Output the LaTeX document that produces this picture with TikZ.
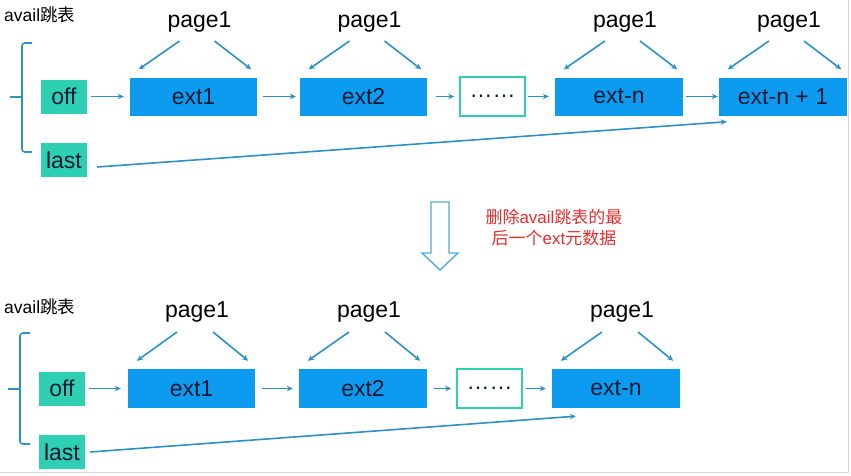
\documentclass[tikz,border=0pt]{standalone}
\usepackage{fontspec}
\setmainfont{Liberation Sans}
\newfontfamily\cjk{Noto Sans CJK SC}
\usetikzlibrary{arrows.meta,calc}
\definecolor{tealbox}{RGB}{45,208,178}
\definecolor{bluebox}{RGB}{13,155,240}
\definecolor{arrowc}{RGB}{45,145,200}
\definecolor{textc}{RGB}{15,25,50}
\definecolor{redtxt}{RGB}{230,45,45}
\definecolor{bigarrow}{RGB}{80,170,220}
\definecolor{framec}{RGB}{215,215,215}
\tikzset{
  ptr/.style={node font=\fontsize{23}{26}\selectfont, fill=tealbox, text=textc, inner sep=0pt, minimum width=46pt, minimum height=34pt},
  ext/.style={node font=\fontsize{23}{26}\selectfont, fill=bluebox, text=textc, inner sep=0pt, minimum width=127pt, minimum height=38pt},
  dotbox/.style={node font=\fontsize{23}{26}\selectfont, draw=tealbox, line width=1.5pt, fill=white, text=textc, inner sep=0pt, minimum width=65pt, minimum height=38pt},
  pagelbl/.style={node font=\fontsize{23}{26}\selectfont, text=black, inner sep=0pt, anchor=base},
  title/.style={node font=\fontsize{17.5}{20}\selectfont, text=black, inner sep=0pt, anchor=west},
  conn/.style={draw=arrowc, line width=1.6pt, -{Stealth[length=6pt,width=5.5pt]}},
  brace/.style={draw=arrowc, line width=1.6pt, rounded corners=3pt},
}
\begin{document}
\begin{tikzpicture}[x=1pt,y=-1pt]
\useasboundingbox (0,0) rectangle (851,475);
\fill[white] (0,0) rectangle (851,475);
\draw[framec, line width=1pt] (848,0) -- (848,472) -- (0,472);

% ---------- top ----------
\node[title] (t1) at (4,15) {avail{\cjk 跳表}};
\draw[brace] (32,43) -- (22,43) -- (22,152) -- (32,152);
\draw[brace] (10,97) -- (22,97);

\node[ptr] (off1) at (64,96.5) {off};
\node[ptr] (last1) at (64,160) {last};
\node[ext] (a1) at (193.5,96.5) {ext1};
\node[ext] (a2) at (363.5,96.5) {ext2};
\node[dotbox, minimum height=39pt] (ad) at (492.5,96.5) {……};
\node[ext, minimum width=128pt] (an) at (619,96.5) {ext-n};
\node[ext, minimum width=128pt] (an1) at (783,96.5) {ext-n + 1};

\foreach \b/\c in {a1/199.5, a2/369.5, an/625, an1/789}{
  \node[pagelbl] (p\b) at (\c,27) {page1};
  \draw[conn] ([shift={(-20,14)}]p\b.base) -- ([shift={(9,-8)}]\b.north west);
  \draw[conn] ([shift={(15,14)}]p\b.base) -- ([shift={(-6,-8)}]\b.north east);
}
\draw[conn, shorten <=4pt, shorten >=6pt] (off1) -- (a1);
\draw[conn, shorten <=6pt, shorten >=4pt] (a1) -- (a2);
\draw[conn, shorten <=9pt, shorten >=5pt] (a2) -- (ad);
\draw[conn, shorten <=2pt, shorten >=6pt] (ad) -- (an);
\draw[conn, shorten <=3pt, shorten >=1pt] (an) -- (an1);
\coordinate (lend1) at ([shift={(8,6)}]an1.south west);
\draw[conn] ([shift={(10,7)}]last1.east) -- (lend1);

% ---------- middle ----------
\draw[bigarrow, line width=1.4pt, fill=white, line join=miter]
  (431,202) -- (449,202) -- (449,253) -- (458,253) -- (440,270) -- (422,253) -- (431,253) -- cycle;
\node[text=redtxt, align=center, font=\fontsize{17}{21}\selectfont, inner sep=0pt] (note) at (554,227)
  {{\cjk 删除}avail{\cjk 跳表的最}\\{\cjk 后一个}ext{\cjk 元数据}};

% ---------- bottom ----------
\node[title] (t2) at (4,307) {avail{\cjk 跳表}};
\draw[brace] (30,333) -- (20,333) -- (20,444) -- (30,444);
\draw[brace] (8,389) -- (20,389);

\node[ptr] (off2) at (62,388.5) {off};
\node[ptr] (last2) at (62,452) {last};
\node[ext, minimum height=39pt] (b1) at (191.5,388.5) {ext1};
\node[ext, minimum height=39pt, minimum width=128pt] (b2) at (363,388.5) {ext2};
\node[dotbox, minimum height=39pt] (bd) at (489.5,388.5) {……};
\node[ext, minimum width=128pt, minimum height=39pt] (bn) at (616,388.5) {ext-n};

\foreach \b/\c in {b1/197, b2/369, bn/622}{
  \node[pagelbl] (p\b) at (\c,317) {page1};
  \draw[conn] ([shift={(-20,15)}]p\b.base) -- ([shift={(9,-8)}]\b.north west);
  \draw[conn] ([shift={(16,15)}]p\b.base) -- ([shift={(-7,-8)}]\b.north east);
}
\draw[conn, shorten <=4pt, shorten >=7pt] (off2) -- (b1);
\draw[conn, shorten <=7pt, shorten >=6pt] (b1) -- (b2);
\draw[conn, shorten <=7pt, shorten >=5pt] (b2) -- (bd);
\draw[conn, shorten <=3pt, shorten >=6pt] (bd) -- (bn);
\coordinate (lend2) at ([shift={(24,8)}]bn.south west);
\draw[conn] ([shift={(5,0)}]last2.east) -- (lend2);
\end{tikzpicture}
\end{document}
